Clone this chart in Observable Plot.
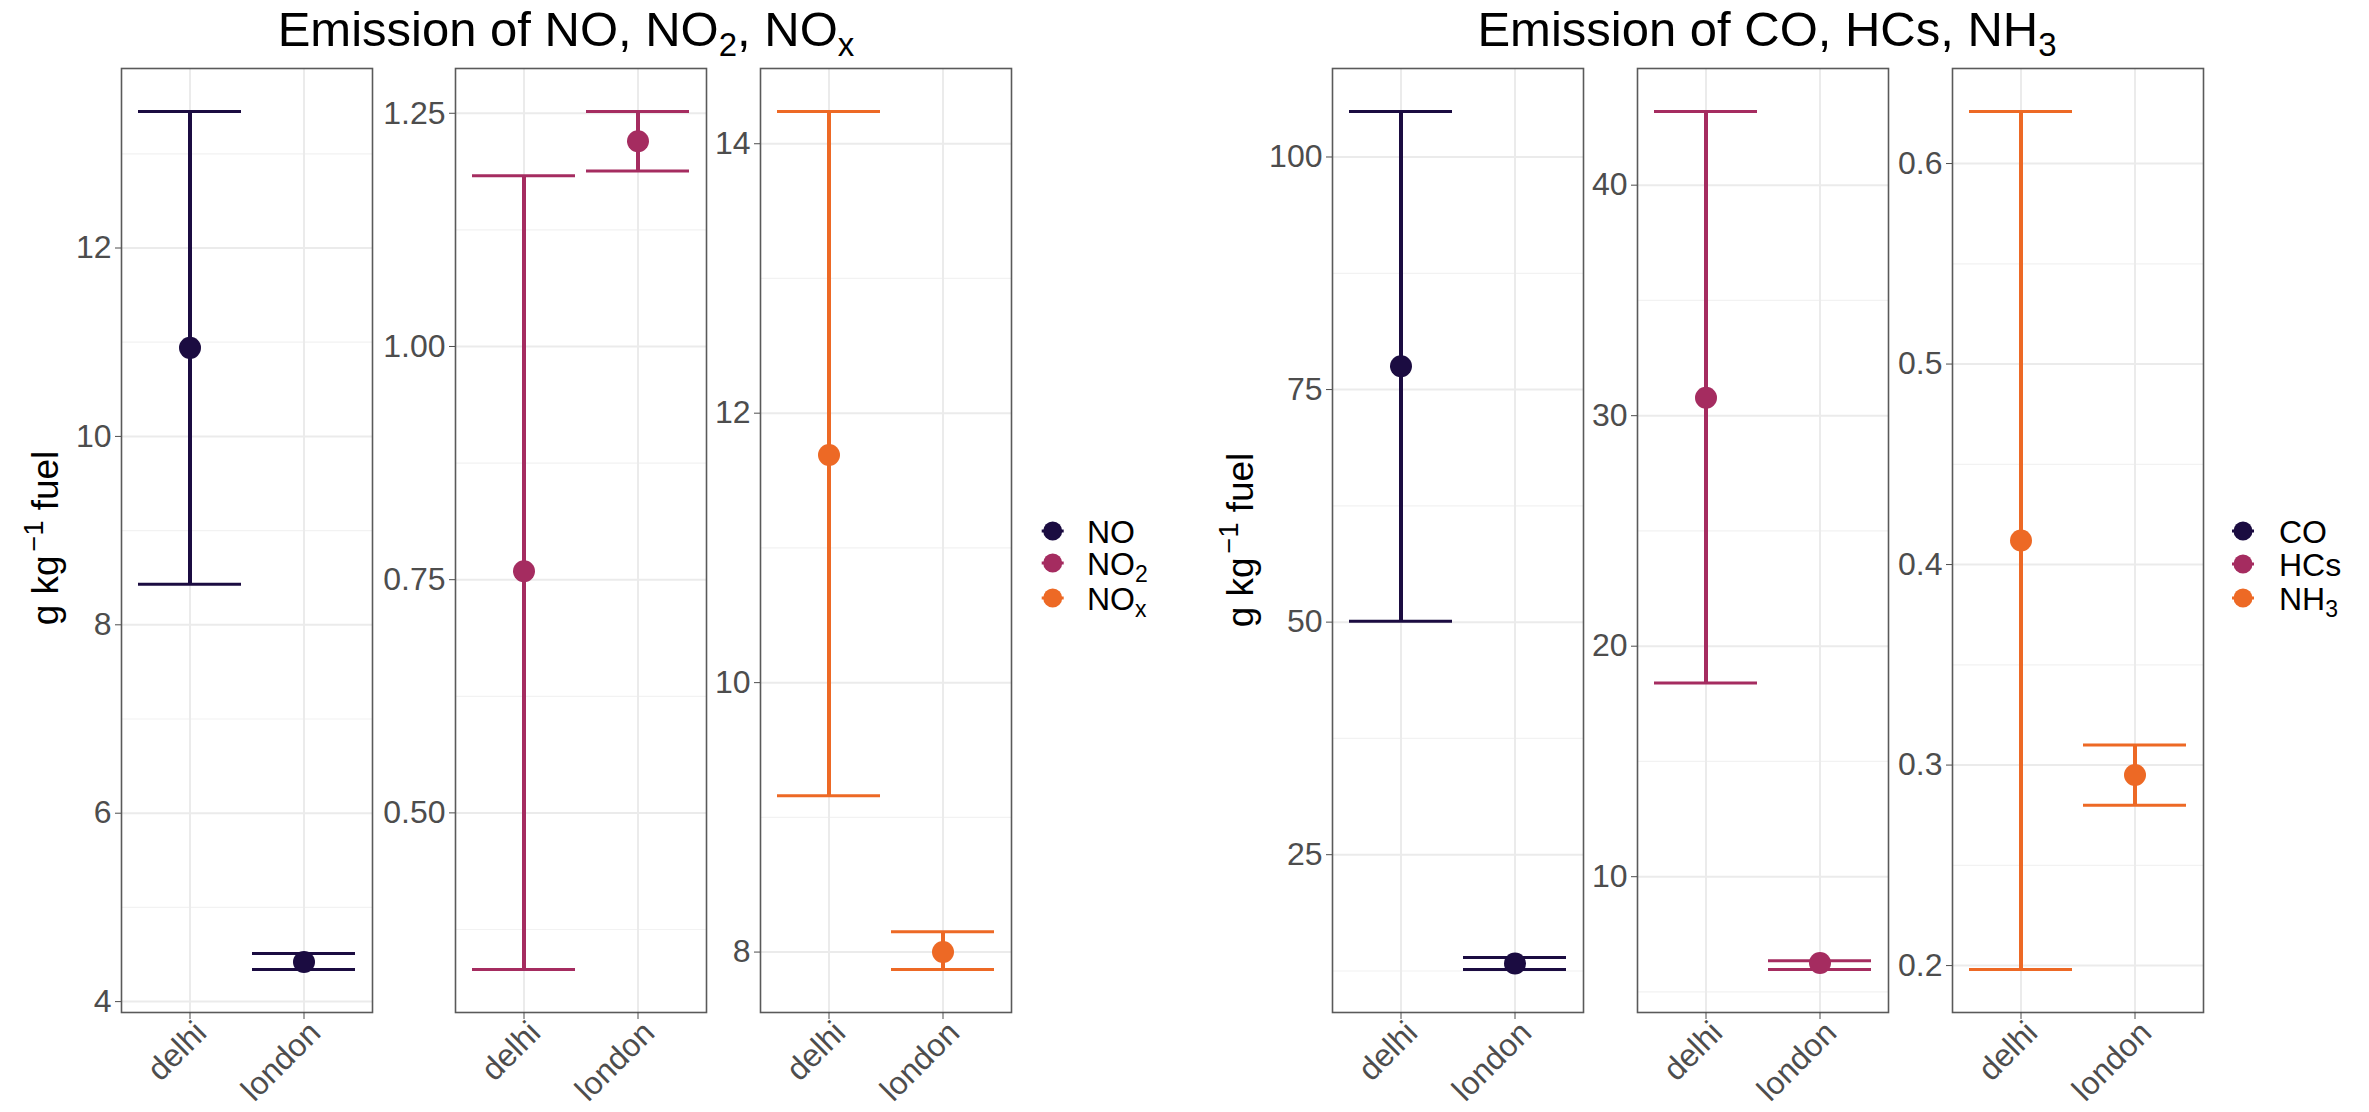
<!DOCTYPE html>
<html><head><meta charset="utf-8">
<script src="https://cdn.jsdelivr.net/npm/d3@7"></script>
<script src="https://cdn.jsdelivr.net/npm/@observablehq/plot@0.6"></script>
<style>
html,body{margin:0;padding:0;background:#fff;}
#root{position:relative;width:2369px;height:1112px;overflow:hidden;font-family:"Liberation Sans",Arial,sans-serif;background:#fff;}
#root svg.pnl{position:absolute;overflow:visible;background:transparent;}
#overlay{position:absolute;left:0;top:0;}
</style></head><body><div id="root"></div>
<script>
// ---------- data ----------
const cities = ["delhi", "london"];
const groupA = ["NO", "NO2", "NOx"];
const groupB = ["CO", "HCs", "NH3"];
const palette = ["#1B0C41", "#A52C60", "#ED6925"];

const NO_mean = [10.94, 4.42],  NO_low = [8.43, 4.34],  NO_high = [13.45, 4.51];
const NO2_mean = [0.759, 1.220], NO2_low = [0.332, 1.188], NO2_high = [1.183, 1.252];
const NOx_mean = [11.69, 8.00], NOx_low = [9.16, 7.87], NOx_high = [14.24, 8.15];
const CO_mean = [77.5, 13.3],   CO_low = [50.1, 12.65], CO_high = [104.9, 13.94];
const HCs_mean = [30.78, 6.26], HCs_low = [18.4, 5.97], HCs_high = [43.2, 6.35];
const NH3_mean = [0.412, 0.295], NH3_low = [0.198, 0.280], NH3_high = [0.626, 0.310];

const NO_ticks = [4, 6, 8, 10, 12],          NO_minor = [5, 7, 9, 11, 13];
const NO2_ticks = [0.50, 0.75, 1.00, 1.25],  NO2_minor = [0.375, 0.625, 0.875, 1.125];
const NOx_ticks = [8, 10, 12, 14],           NOx_minor = [9, 11, 13];
const CO_ticks = [25, 50, 75, 100],          CO_minor = [12.5, 37.5, 62.5, 87.5];
const HCs_ticks = [10, 20, 30, 40],          HCs_minor = [5, 15, 25, 35];
const NH3_ticks = [0.2, 0.3, 0.4, 0.5, 0.6], NH3_minor = [0.25, 0.35, 0.45, 0.55];

// title pieces: [normal text, subscript]
const titleA = [["Emission of NO, NO", "2"], [", NO", "x"]];
const titleB = [["Emission of CO, HCs, NH", "3"]];
const yLabel = ["g kg", "\u22121", " fuel"];
const legendA = [["NO", ""], ["NO", "2"], ["NO", "x"]];
const legendB = [["CO", ""], ["HCs", ""], ["NH", "3"]];

// ---------- layout ----------
const root = document.getElementById("root");
const panelW = 251, panelH = 944, panelTop = 68;
const ML = 100, MR = 10, MT = 10, MB = 100;
const FONT = "'Liberation Sans', Arial, sans-serif";
const panels = [
  {left: 120.7, mean: NO_mean, low: NO_low, high: NO_high, ticks: NO_ticks, minor: NO_minor, fmt: d3.format("d"), color: palette[0]},
  {left: 454.7, mean: NO2_mean, low: NO2_low, high: NO2_high, ticks: NO2_ticks, minor: NO2_minor, fmt: d3.format(".2f"), color: palette[1]},
  {left: 759.7, mean: NOx_mean, low: NOx_low, high: NOx_high, ticks: NOx_ticks, minor: NOx_minor, fmt: d3.format("d"), color: palette[2]},
  {left: 1332.3, mean: CO_mean, low: CO_low, high: CO_high, ticks: CO_ticks, minor: CO_minor, fmt: d3.format("d"), color: palette[0]},
  {left: 1637.3, mean: HCs_mean, low: HCs_low, high: HCs_high, ticks: HCs_ticks, minor: HCs_minor, fmt: d3.format("d"), color: palette[1]},
  {left: 1951.7, mean: NH3_mean, low: NH3_low, high: NH3_high, ticks: NH3_ticks, minor: NH3_minor, fmt: d3.format(".1f"), color: palette[2]}
];

panels.forEach(p => {
  const data = cities.map((c, i) => ({city: c, mean: p.mean[i], low: p.low[i], high: p.high[i]}));
  const lo = d3.min(p.low), hi = d3.max(p.high), r = hi - lo;
  const chart = Plot.plot({
    width: ML + panelW + MR,
    height: MT + panelH + MB,
    marginLeft: ML, marginRight: MR, marginTop: MT, marginBottom: MB,
    style: {fontFamily: FONT, fontSize: "32px", color: "#4d4d4d", background: "transparent", overflow: "visible"},
    x: {type: "band", domain: cities, paddingInner: 0.1, paddingOuter: 0.15, label: null},
    y: {domain: [lo - 0.05 * r, hi + 0.05 * r], label: null},
    marks: [
      Plot.ruleY(p.minor, {stroke: "#f2f2f2", strokeWidth: 1.2}),
      Plot.ruleY(p.ticks, {stroke: "#ebebeb", strokeWidth: 2}),
      Plot.ruleX(cities, {x: d => d, stroke: "#ebebeb", strokeWidth: 2}),
      Plot.ruleX(data, {x: "city", y1: "low", y2: "high", stroke: p.color, strokeWidth: 4}),
      Plot.tickY(data, {x: "city", y: "low", stroke: p.color, strokeWidth: 3}),
      Plot.tickY(data, {x: "city", y: "high", stroke: p.color, strokeWidth: 3}),
      Plot.dot(data, {x: "city", y: "mean", r: 11, fill: p.color, stroke: "none"}),
      Plot.frame({stroke: "#5a5a5a", strokeWidth: 1.6}),
      Plot.axisY({ticks: p.ticks, tickFormat: p.fmt, tickSize: 6, tickPadding: 4, fontSize: 32, label: null, color: "#4d4d4d"}),
      Plot.axisX({tickSize: 7, text: null, label: null, color: "#4d4d4d"}),
      Plot.axisX({tickSize: 0, tickRotate: -45, tickPadding: 11, dx: 11, dy: 4, fontSize: 32, label: null, color: "#4d4d4d"})
    ]
  });
  chart.classList.add("pnl");
  chart.style.left = (p.left - ML) + "px";
  chart.style.top = (panelTop - MT) + "px";
  root.appendChild(chart);
});

// ---------- titles, axis labels, legends ----------
const svg = d3.select(root).append("svg").attr("id", "overlay")
  .attr("width", 2369).attr("height", 1112)
  .style("font-family", FONT);

function title(pieces, cx) {
  const t = svg.append("text").attr("x", cx).attr("y", 46).attr("text-anchor", "middle")
    .attr("font-size", 49).attr("fill", "#000");
  let shifted = false;
  pieces.forEach(([txt, sub]) => {
    const a = t.append("tspan").text(txt);
    if (shifted) { a.attr("dy", -10); shifted = false; }
    if (sub) { t.append("tspan").attr("dy", 10).attr("font-size", 33).text(sub); shifted = true; }
  });
}
title(titleA, 566);
title(titleB, 1767);

function ylab(x, y) {
  const t = svg.append("text").attr("transform", `translate(${x},${y}) rotate(-90)`)
    .attr("text-anchor", "middle").attr("font-size", 37).attr("fill", "#000");
  t.append("tspan").text(yLabel[0]);
  t.append("tspan").attr("dy", -15).attr("dx", 4).attr("font-size", 27).text(yLabel[1]);
  t.append("tspan").attr("dy", 15).text(yLabel[2]);
}
ylab(58, 538);
ylab(1253, 540);

function legend(items, dotX, textX, ys) {
  items.forEach(([txt, sub], i) => {
    const g = svg.append("g");
    g.append("line").attr("x1", dotX - 11).attr("x2", dotX + 11).attr("y1", ys[i]).attr("y2", ys[i])
      .attr("stroke", palette[i]).attr("stroke-width", 3);
    g.append("circle").attr("cx", dotX).attr("cy", ys[i]).attr("r", 9.5).attr("fill", palette[i]);
    const t = g.append("text").attr("x", textX).attr("y", ys[i] + 11.5).attr("font-size", 32).attr("fill", "#000");
    t.append("tspan").text(txt);
    if (sub) t.append("tspan").attr("dy", 7).attr("font-size", 23).text(sub);
  });
}
legend(legendA, 1052.7, 1087, [531, 563, 598]);
legend(legendB, 2243, 2279, [531, 564, 598]);
</script></body></html>
